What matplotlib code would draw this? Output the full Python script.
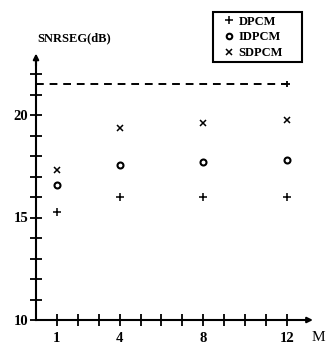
import matplotlib
matplotlib.use("Agg")
import matplotlib.pyplot as plt
from matplotlib.lines import Line2D
from matplotlib.patches import Rectangle

# Data
M = [1, 4, 8, 12]
dpcm = [15.25, 16.0, 16.0, 16.0]
idpcm = [16.6, 17.55, 17.7, 17.8]
sdpcm = [17.3, 19.35, 19.6, 19.75]
bound_x = [0, 12]
bound_y = [21.5, 21.5]
x_ticks = list(range(1, 13))
x_labels = ["1", "", "", "4", "", "", "", "8", "", "", "", "12"]
y_ticks = list(range(10, 23))
y_labels = ["10", "", "", "", "", "15", "", "", "", "", "20", "", ""]

plt.rcParams['font.family'] = ['Liberation Serif', 'DejaVu Serif']

fig = plt.figure(figsize=(3.29, 3.49), dpi=100)
ax = fig.add_axes([0, 0, 1, 1])
W, H = 329, 349
ux, uy = 20.9, 20.5
x0px, y10px = 36, 320
ax.set_xlim(-x0px / ux, (W - x0px) / ux)
ax.set_ylim(10 - (H - y10px) / uy, 10 + y10px / uy)

for s in ['top', 'right']:
    ax.spines[s].set_visible(False)
ax.spines['left'].set_position(('data', 0))
ax.spines['bottom'].set_position(('data', 10))
ax.spines['left'].set_bounds(10, 22.6)
ax.spines['bottom'].set_bounds(0, 13.0)
for s in ['left', 'bottom']:
    ax.spines[s].set_linewidth(1.5)

ax.set_xticks(x_ticks)
ax.set_xticklabels(x_labels, fontweight='bold', fontsize=10.5)
ax.set_yticks(y_ticks)
ax.set_yticklabels(y_labels, fontweight='bold', fontsize=10.5)
ax.tick_params(axis='both', direction='inout', length=9, width=1.3)
ax.tick_params(axis='x', pad=4)
ax.tick_params(axis='y', pad=1)

# arrows
ax.annotate('', xy=(0, 23.0), xytext=(0, 22.4),
            arrowprops=dict(arrowstyle='-|>', lw=1.5, color='black',
                            mutation_scale=8, shrinkA=0, shrinkB=0))
ax.annotate('', xy=(13.25, 10), xytext=(12.9, 10),
            arrowprops=dict(arrowstyle='-|>', lw=1.5, color='black',
                            mutation_scale=8, shrinkA=0, shrinkB=0))

ax.plot(bound_x, bound_y, linestyle=(0, (4, 3)), color='black', lw=1.4)
ax.plot([bound_x[-1]], [bound_y[-1]], marker='+', ms=4, mew=1.3, color='black')

ax.plot(M, dpcm, linestyle='none', marker='+', ms=5.2, mew=1.1, color='black')
ax.plot(M, idpcm, linestyle='none', marker='o', ms=4.3, mew=1.5,
        mfc='white', mec='black')
ax.plot(M, sdpcm, linestyle='none', marker='x', ms=4.0, mew=1.1, color='black')

ax.text(0.05, 23.75, 'SNRSEG(dB)', fontsize=9, fontweight='bold',
        ha='left', va='center')
ax.text(13.2, 9.13, 'M', fontsize=11, ha='left', va='center')

handles = [
    Line2D([], [], linestyle='none', marker='+', ms=5.5, mew=1.1, color='black'),
    Line2D([], [], linestyle='none', marker='o', ms=4, mew=1.5, mfc='white', mec='black'),
    Line2D([], [], linestyle='none', marker='x', ms=4, mew=1.1, color='black'),
]
leg = ax.legend(handles, ['DPCM', 'IDPCM', 'SDPCM'],
                loc='center', bbox_to_anchor=(254 / W, 1 - 37.5 / H),
                frameon=False,
                prop={'weight': 'bold', 'size': 9},
                handlelength=0.6, handletextpad=0.5, labelspacing=0.3,
                borderpad=0.2, borderaxespad=0)
fig.add_artist(Rectangle((213 / W, 1 - 62 / H), 89 / W, 50 / H,
                         transform=fig.transFigure, fill=False,
                         edgecolor='black', lw=1.5))

fig.savefig('out.png', dpi=100)
